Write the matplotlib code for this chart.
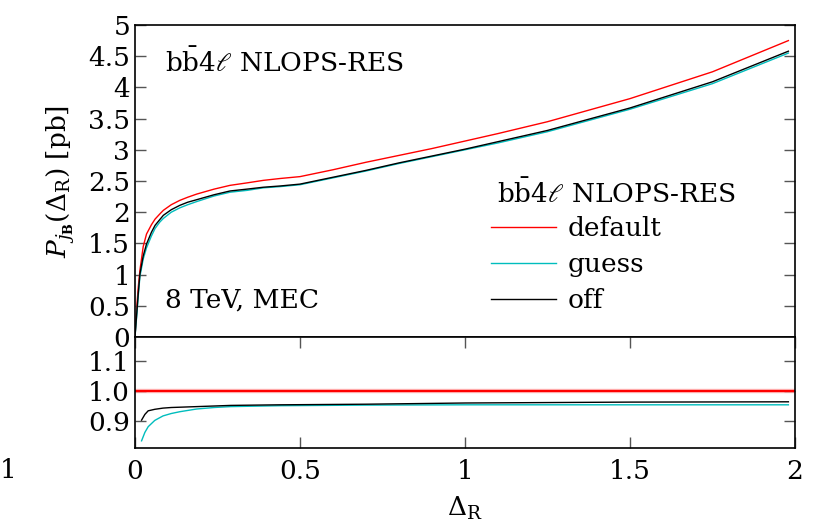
import numpy as np
import matplotlib
matplotlib.use("Agg")
import matplotlib.pyplot as plt

plt.rcParams['font.family'] = 'DejaVu Serif'
plt.rcParams['mathtext.fontset'] = 'dejavuserif'

# main panel: P(Delta_R) in pb
x_top = [0, 0.005, 0.01, 0.015, 0.025, 0.035, 0.05, 0.061, 0.075, 0.086,
         0.11, 0.136, 0.16, 0.187, 0.24, 0.288, 0.34, 0.389, 0.44, 0.5,
         0.6, 0.7, 0.8, 0.9, 1.0, 1.1, 1.25, 1.5, 1.75, 1.98]
p_default = [0, 0.45, 0.8, 1.07, 1.45, 1.65, 1.8, 1.89, 1.97, 2.03,
             2.12, 2.19, 2.24, 2.29, 2.37, 2.43, 2.47, 2.51, 2.54, 2.57,
             2.68, 2.80, 2.91, 3.02, 3.14, 3.26, 3.45, 3.82, 4.25, 4.75]
p_guess = [0, 0.32, 0.66, 0.97, 1.25, 1.43, 1.62, 1.74, 1.84, 1.9,
           2.0, 2.07, 2.12, 2.17, 2.26, 2.32, 2.35, 2.39, 2.41, 2.44,
           2.55, 2.66, 2.78, 2.89, 3.0, 3.11, 3.29, 3.65, 4.06, 4.55]
p_off = [0, 0.35, 0.7, 1.01, 1.3, 1.49, 1.68, 1.79, 1.88, 1.95,
         2.04, 2.11, 2.16, 2.2, 2.28, 2.34, 2.37, 2.40, 2.42, 2.45,
         2.56, 2.67, 2.79, 2.90, 3.01, 3.13, 3.31, 3.67, 4.09, 4.58]

# ratio panel: curve / default
x_rat = [0.02, 0.03, 0.04, 0.06, 0.085, 0.11, 0.136, 0.187, 0.24, 0.29,
         0.44, 0.7, 1.0, 1.5, 1.98]
r_off = [0.903, 0.922, 0.934, 0.939, 0.943, 0.945, 0.946, 0.948, 0.950, 0.952,
         0.954, 0.956, 0.96, 0.963, 0.964]
r_guess = [0.834, 0.862, 0.881, 0.902, 0.917, 0.925, 0.931, 0.94, 0.945, 0.948,
           0.951, 0.953, 0.954, 0.954, 0.954]
x_def = [0, 2]
r_def = [1.0, 1.0]

red = '#ff0000'
cyan = '#00bdbd'

fig = plt.figure(figsize=(8.21, 5.24), dpi=100)
ax1 = fig.add_axes([0.1644, 0.3569, 0.8039, 0.5954])
ax2 = fig.add_axes([0.1644, 0.145, 0.8039, 0.2119])

fs = 19
title = r'$\mathrm{b\bar{b}4}\ell$ NLOPS-RES'

ax1.plot(x_top, p_default, color=red, lw=1.0, label='default')
ax1.plot(x_top, p_guess, color=cyan, lw=1.0, label='guess')
ax1.plot(x_top, p_off, color='black', lw=1.0, label='off')
ax1.set_xlim(0, 2)
ax1.set_ylim(0, 5)
ax1.set_yticks(np.arange(0, 5.01, 0.5))
ax1.set_yticklabels(['0', '0.5', '1', '1.5', '2', '2.5', '3', '3.5', '4', '4.5', '5'])
ax1.tick_params(axis='y', direction='in', length=8, width=1, color='#555555',
                left=True, right=True, labelsize=fs)
ax1.tick_params(axis='x', bottom=False, labelbottom=False)
ax1.set_ylabel(r'$P_{j_{\mathbf{B}}}(\Delta_{\mathrm{R}})$ [pb]', fontsize=fs, labelpad=8)
ax1.text(0.045, 0.88, title, transform=ax1.transAxes, fontsize=fs, va='center')
ax1.text(0.045, 0.12, '8 TeV, MEC', transform=ax1.transAxes, fontsize=fs, va='center')
ax1.text(0.548, 0.4615, title, transform=ax1.transAxes, fontsize=fs, va='center')
ax1.legend(frameon=False, fontsize=fs, loc='upper left',
           bbox_to_anchor=(0.540, 0.387), handlelength=2.45,
           labelspacing=0.42, handletextpad=0.45, borderaxespad=0,
           borderpad=0)

ax2.plot(x_def, r_def, color=red, lw=3.2, alpha=0.25)
ax2.plot(x_def, r_def, color=red, lw=1.6)
ax2.plot(x_rat, r_guess, color=cyan, lw=1.0)
ax2.plot(x_rat, r_off, color='black', lw=1.0)
ax2.set_xlim(0, 2)
ax2.set_ylim(0.81, 1.18)
ax2.set_yticks([0.9, 1.0, 1.1])
ax2.set_yticklabels(['0.9', '1.0', '1.1'])
ax2.set_xticks([0, 0.5, 1, 1.5, 2])
ax2.set_xticklabels(['0', '0.5', '1', '1.5', '2'])
ax2.tick_params(direction='in', length=8, width=1, color='#555555',
                left=True, right=True, top=True, bottom=True, labelsize=fs)
ax2.tick_params(axis='x', pad=8)
ax2.set_xlabel(r'$\Delta_{\mathrm{R}}$', fontsize=fs, labelpad=8)

for ax in (ax1, ax2):
    for s in ax.spines.values():
        s.set_linewidth(1.2)

fig.text(0.0, 0.103, '1', fontsize=fs, va='center', ha='left')

fig.savefig('out.png', dpi=100)
